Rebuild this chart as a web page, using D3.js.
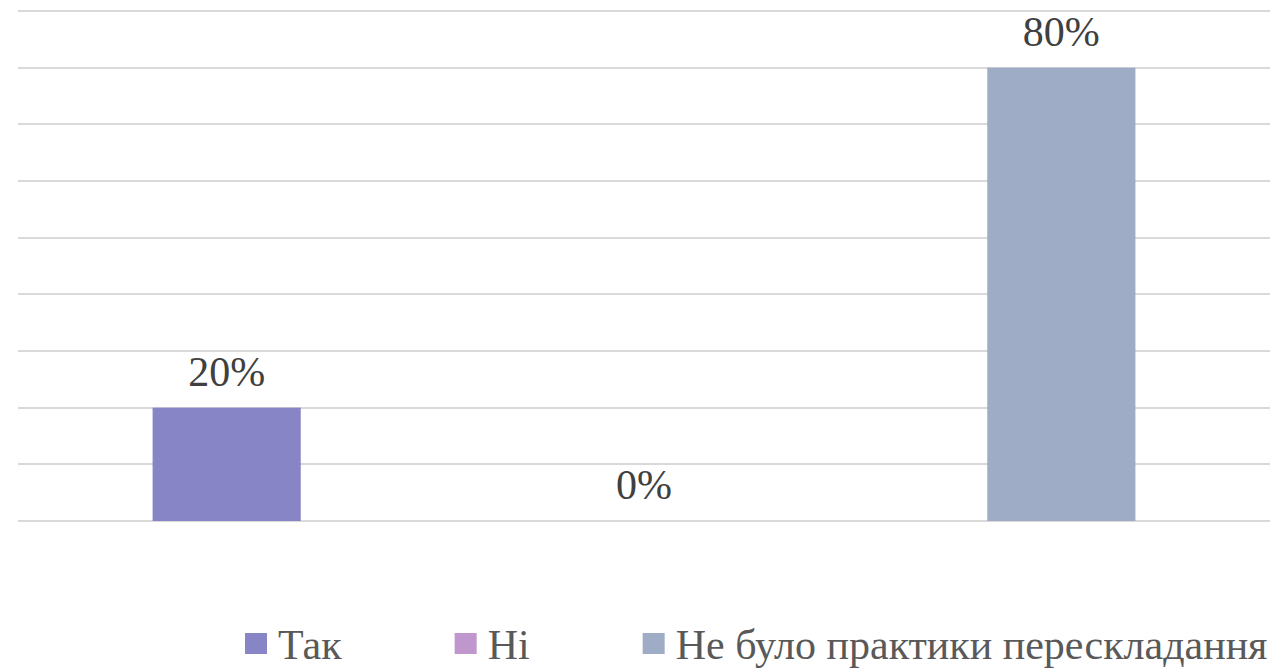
<!DOCTYPE html>
<html>
<head>
<meta charset="utf-8">
<script src="https://cdn.jsdelivr.net/npm/d3@7"></script>
<style>
  body { margin: 0; background: #fff; }
</style>
</head>
<body>
<svg id="chart" width="1281" height="668"></svg>
<script>
/******************** data ********************/
var categories = ["Так", "Ні", "Не було практики перескладання"];
var values = [0.20, 0.00, 0.80];
var colors = ["#8785C5", "#BF97CC", "#9EACC6"];
var yTicks = [0, 0.1, 0.2, 0.3, 0.4, 0.5, 0.6, 0.7, 0.8, 0.9];

/******************** layout ********************/
var FONT = "'Liberation Serif', 'Times New Roman', serif";
var svg = d3.select("#chart");
var plotLeft = 18, plotRight = 1270, plotTop = 11, plotBottom = 521;

var x = d3.scaleBand()
    .domain(categories)
    .range([plotLeft, plotRight])
    .paddingInner(0.645)
    .paddingOuter(0.3225);

var y = d3.scaleLinear()
    .domain([0, 0.9])
    .range([plotBottom, plotTop]);

// gridlines
svg.append("g").selectAll("line")
    .data(yTicks)
    .enter().append("line")
    .attr("x1", plotLeft).attr("x2", plotRight)
    .attr("y1", function(d){ return Math.round(y(d)); })
    .attr("y2", function(d){ return Math.round(y(d)); })
    .attr("stroke", "#d9d9d9")
    .attr("stroke-width", 2);

// bars
svg.append("g").selectAll("rect")
    .data(values)
    .enter().append("rect")
    .attr("x", function(d, i){ return x(categories[i]); })
    .attr("width", x.bandwidth())
    .attr("y", function(d){ return y(d); })
    .attr("height", function(d){ return plotBottom - y(d); })
    .attr("fill", function(d, i){ return colors[i]; });

// value labels
svg.append("g").selectAll("text")
    .data(values)
    .enter().append("text")
    .attr("x", function(d, i){ return x(categories[i]) + x.bandwidth() / 2; })
    .attr("y", function(d){ return y(d) - 22; })
    .attr("text-anchor", "middle")
    .style("font-family", FONT)
    .style("font-size", "42px")
    .attr("fill", "#404040")
    .text(function(d){ return d3.format(".0%")(d); });

// legend
var legend = svg.append("g");
var lx = 245;
categories.forEach(function(c, i){
    var g = legend.append("g");
    g.append("rect")
        .attr("x", lx).attr("y", 633)
        .attr("width", 22).attr("height", 21)
        .attr("fill", colors[i]);
    var t = g.append("text")
        .attr("x", lx + 33).attr("y", 659)
        .style("font-family", FONT)
        .style("font-size", "42px")
        .attr("fill", "#595959")
        .text(c);
    lx += 33 + t.node().getComputedTextLength() + 113;
});
</script>
</body>
</html>
